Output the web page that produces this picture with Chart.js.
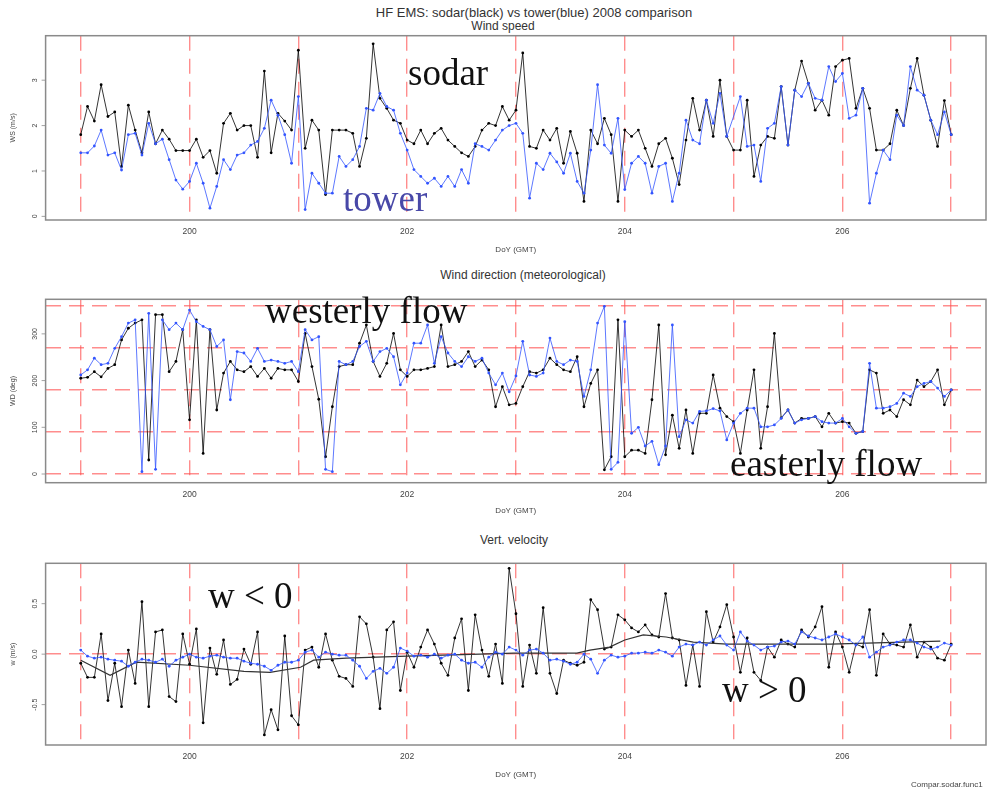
<!DOCTYPE html>
<html>
<head>
<meta charset="utf-8">
<script src="https://cdn.jsdelivr.net/npm/chart.js@4.4.0/dist/chart.umd.min.js"></script>
<style>
  body { margin: 0; background: #fff; width: 998px; height: 792px; position: relative; overflow: hidden;
         font-family: "Liberation Sans", Arial, sans-serif; }
  canvas { position: absolute; left: 0; }
  .t { position: absolute; width: 600px; text-align: center; white-space: nowrap; color: #333; font-size: 12px; line-height: 13px; }
  .ann { position: absolute; white-space: nowrap; font-family: "Liberation Serif", "Times New Roman", serif;
         font-size: 37px; line-height: 37px; color: #111; }
</style>
</head>
<body>
<div class="t" style="left:234px;top:6px;font-size:13px">HF EMS: sodar(black) vs tower(blue) 2008 comparison</div>
<div class="t" style="left:203px;top:20px">Wind speed</div>
<div class="t" style="left:223px;top:269px">Wind direction (meteorological)</div>
<div class="t" style="left:214px;top:534px">Vert. velocity</div>

<canvas id="ws" width="998" height="265" style="top:0"></canvas>
<canvas id="wd" width="998" height="265" style="top:265px"></canvas>
<canvas id="vv" width="998" height="262" style="top:530px"></canvas>

<div class="ann" style="left:408px;top:54px">sodar</div>
<div class="ann" style="left:343px;top:180px;color:#4848a8">tower</div>
<div class="ann" style="left:265px;top:292px">westerly flow</div>
<div class="ann" style="left:730px;top:445px">easterly flow</div>
<div class="ann" style="left:208px;top:577px">w &lt; 0</div>
<div class="ann" style="left:722px;top:671px">w &gt; 0</div>
<div style="position:absolute;left:911px;top:780px;font-size:8px;color:#444;white-space:nowrap">Compar.sodar.func1</div>

<script>
// sample times: DoY 199 .. 207 every 1.5 h
var doy = [];
for (var i = 0; i <= 128; i++) doy.push(199 + i / 16);

// wind speed (m/s)
const wsSodar = [1.8, 2.42, 2.1, 2.9, 2.2, 2.3, 1.1, 2.45, 1.9, 1.4, 2.3, 1.6, 1.9, 1.7, 1.45, 1.45,
  1.45, 1.7, 1.3, 1.45, 0.95, 2.05, 2.27, 1.9, 2.0, 2.0, 1.3, 3.2, 1.4, 2.27, 2.1, 1.9,
  3.66, 1.5, 2.12, 1.9, 0.48, 1.9, 1.9, 1.9, 1.83, 1.1, 1.72, 3.8, 2.6, 2.38, 2.12, 2.05,
  1.68, 1.6, 1.9, 1.6, 1.83, 1.94, 1.68, 1.54, 1.4, 1.32, 1.54, 1.9, 2.05, 2.0, 2.42, 2.12,
  2.34, 3.6, 1.54, 1.5, 1.9, 1.68, 1.94, 1.17, 1.87, 1.39, 0.33, 1.9, 1.6, 2.16, 1.8, 0.33,
  1.9, 1.76, 1.9, 1.5, 1.1, 1.6, 1.72, 1.28, 0.7, 1.68, 2.6, 1.9, 2.56, 1.76, 3.0, 1.76,
  1.46, 1.46, 2.56, 0.88, 1.57, 1.76, 1.72, 2.86, 1.57, 2.78, 3.42, 2.93, 2.34, 2.56, 2.23, 3.3,
  3.44, 3.48, 2.38, 2.82, 2.38, 1.46, 1.46, 1.6, 2.34, 2.0, 2.82, 3.48, 2.67, 2.12, 1.54, 2.55,
  1.8];
const wsTower = [1.4, 1.4, 1.55, 1.9, 1.35, 1.4, 1.02, 1.8, 1.83, 1.35, 2.05, 1.6, 1.7, 1.25, 0.8, 0.6,
  0.77, 1.17, 0.73, 0.18, 0.66, 1.25, 1.03, 1.35, 1.4, 1.57, 1.65, 1.94, 2.56, 2.23, 1.8, 1.17,
  2.64, 0.15, 0.95, 0.73, 0.51, 0.51, 1.32, 1.1, 1.25, 1.54, 2.38, 2.34, 2.71, 2.42, 2.34, 1.83,
  1.46, 1.03, 0.88, 0.73, 0.84, 0.66, 0.88, 0.66, 1.03, 0.73, 1.6, 1.54, 1.46, 1.68, 1.9, 2.0,
  2.05, 1.83, 0.4, 1.17, 1.03, 1.39, 1.2, 0.95, 1.39, 0.77, 0.51, 1.46, 2.9, 1.57, 1.39, 2.16,
  0.59, 1.17, 1.32, 1.17, 0.51, 1.1, 1.17, 0.33, 0.95, 2.12, 1.68, 1.6, 2.56, 2.05, 2.71, 1.76,
  null, 2.64, 1.54, 1.57, 0.77, 1.94, 2.05, 2.86, 1.57, 2.78, 2.64, 2.93, 2.6, 2.56, 3.3, 2.97,
  3.15, 2.16, 2.23, 2.82, 0.29, 0.95, 1.46, 1.25, 2.23, 2.0, 3.3, 2.78, 2.67, 2.12, 1.8, 2.3,
  1.8];

// wind direction (deg)
const wdSodar = [205, 207, 219, 208, 226, 234, 287, 312, 323, 330, 30, 341, 341, 219, 241, 309,
  116, 330, 44, 309, 137, 216, 241, 223, 219, 230, 209, 226, 205, 226, 223, 223,
  198, 301, 230, 160, 37, 144, 230, 234, 234, 280, 319, 241, 209, 237, 301, 223,
  209, 223, 223, 226, 230, 319, 230, 234, 241, 262, 230, 244, 223, 144, 187, 148,
  151, 187, 219, 216, 223, 248, 234, 223, 219, 251, 144, 194, 223, 9, 37, 330,
  37, 51, 51, 44, 159, 319, 41, 126, 55, 137, 44, 130, 130, 212, 141, 123,
  112, 44, 137, 223, 55, 144, 301, 120, 137, 109, 119, 119, 123, 101, 130, 109,
  112, 109, 87, 91, 223, 216, 130, 137, 123, 159, 148, 201, 187, 198, 223, 148,
  180];
const wdTower = [212, 223, 248, 234, 237, 269, 294, 323, 330, 5, 344, 10, 330, 309, 323, 309,
  351, 326, 316, 309, 273, 287, 159, 262, 259, 241, 269, 241, 244, 241, 237, 241,
  219, 309, 287, 294, 10, 5, 241, 234, 241, 273, 284, 241, 262, 269, 251, 191,
  216, 280, 280, 319, 237, 294, 259, 241, 230, 251, 241, 248, 216, 191, 216, 176,
  210, 284, 212, 209, 216, 291, 241, 234, 244, 241, 166, 223, 323, 359, 10, 25,
  326, 87, 100, 60, 70, 20, 60, 319, 80, 116, 109, 134, 135, 140, 135, 73,
  109, 130, 141, 141, 101, 101, 105, 119, 137, 109, 116, 119, 123, 112, 109, 109,
  119, 101, 87, 91, 237, 141, 141, 144, 151, 173, 166, 187, 194, 198, 184, 166,
  180];

// vertical velocity (m/s)
const wSodar = [-0.09, -0.23, -0.23, 0.2, -0.46, -0.09, -0.52, 0.04, -0.29, 0.52, -0.52, 0.22, 0.24, -0.42, -0.47, 0.2,
  -0.1, 0.25, -0.68, 0.06, -0.2, 0.14, -0.3, -0.25, 0.05, -0.1, 0.22, -0.8, -0.55, -0.75, 0.18, -0.61,
  -0.7, 0.04, 0.07, -0.13, 0.2, -0.06, -0.22, -0.24, -0.32, 0.37, 0.3, -0.03, -0.54, 0.24, 0.32, -0.36,
  0.02, -0.13, 0.07, 0.24, 0.1, -0.09, -0.21, 0.16, 0.35, -0.36, 0.39, 0.04, -0.22, 0.1, -0.29, 0.85,
  0.4, -0.32, 0.09, -0.19, 0.46, -0.19, -0.39, -0.06, -0.09, -0.11, -0.08, 0.54, 0.44, 0.05, 0.07, 0.39,
  0.34, 0.26, 0.22, 0.29, 0.19, 0.17, 0.6, 0.16, 0.14, -0.31, 0.09, -0.32, 0.42, 0.12, 0.27, 0.49,
  0.17, -0.18, 0.16, -0.18, -0.26, 0.07, -0.03, 0.14, 0.1, 0.07, 0.24, 0.17, 0.27, 0.47, -0.13, 0.22,
  0.07, -0.18, 0.1, 0.07, 0.44, -0.21, 0.2, 0.1, 0.09, 0.07, 0.29, -0.03, 0.12, 0.07, -0.04, -0.06,
  0.1];
const wTower = [0.04, -0.02, -0.04, -0.03, -0.05, -0.06, -0.07, -0.12, -0.08, -0.05, -0.06, -0.08, -0.05, -0.12, -0.06, -0.03,
  0.0, -0.03, -0.04, -0.02, -0.01, -0.03, -0.04, -0.04, -0.07, -0.09, -0.1, -0.12, -0.16, -0.11, -0.08, -0.08,
  -0.06, 0.02, 0.04, -0.03, 0.02, 0.0, -0.01, -0.01, -0.06, -0.12, -0.24, -0.17, -0.14, -0.19, -0.13, 0.06,
  0.03, -0.02, -0.01, -0.03, 0.0, -0.04, -0.01, 0.0, -0.06, -0.09, -0.08, -0.13, -0.03, 0.02, 0.0, 0.07,
  0.04, -0.01, 0.04, 0.05, 0.01, -0.06, -0.05, -0.07, -0.1, -0.08, 0.0, -0.05, -0.19, -0.06, -0.01, -0.03,
  -0.02, 0.01, 0.01, 0.02, 0.01, 0.04, 0.02, -0.02, 0.07, 0.1, 0.09, 0.12, 0.09, 0.14, 0.18, 0.09,
  0.04, 0.22, 0.13, 0.09, 0.04, 0.07, 0.08, 0.12, 0.13, 0.1, 0.22, 0.18, 0.16, 0.14, 0.17, 0.2,
  0.17, 0.14, 0.09, 0.17, -0.03, 0.02, 0.07, 0.09, 0.12, 0.14, 0.14, 0.11, 0.07, 0.05, 0.07, 0.11,
  0.09];
// smoothed sodar w
const wTrendDay = [199.0, 199.27, 199.51, 200.0, 200.5, 200.74, 201.02, 201.14, 201.44, 202.0, 202.67,
  202.98, 203.56, 203.68, 203.86, 204.0, 204.17, 204.38, 204.63, 204.94, 205.89, 206.9];
const wTrend = [-0.06, -0.21, -0.08, -0.11, -0.17, -0.18, -0.13, -0.06, -0.04, -0.02, 0.0,
  0.01, 0.01, 0.04, 0.07, 0.14, 0.19, 0.17, 0.12, 0.1, 0.1, 0.13];

const RED = 'rgba(255,80,80,0.65)';
const BLUE = '#3355ff';

function pts(xs, ys) {
  return ys.map(function (v, i) { return { x: xs[i], y: v }; });
}

function series(data, color, r) {
  return {
    data: data, borderColor: color, backgroundColor: color, borderWidth: 0.8,
    pointRadius: r, pointBorderWidth: 0, pointBackgroundColor: color,
    spanGaps: true, tension: 0
  };
}

// box around plot + R-style rotated y labels
const frame = {
  id: 'frame',
  afterDraw(chart, args, opts) {
    const ctx = chart.ctx, a = chart.chartArea, y = chart.scales.y;
    ctx.save();
    ctx.strokeStyle = '#8a8a8a';
    ctx.lineWidth = 1.5;
    ctx.strokeRect(a.left, a.top, a.right - a.left, a.bottom - a.top);
    ctx.lineWidth = 0.8;
    ctx.fillStyle = '#444';
    ctx.font = '7px "Liberation Sans", Arial';
    ctx.textAlign = 'center';
    ctx.textBaseline = 'middle';
    opts.labels.forEach(function (v) {
      const py = y.getPixelForValue(v);
      ctx.beginPath(); ctx.moveTo(a.left, py); ctx.lineTo(a.left - 4, py); ctx.stroke();
      ctx.save();
      ctx.translate(a.left - 11, py);
      ctx.rotate(-Math.PI / 2);
      ctx.fillText(opts.fmt(v), 0, 0);
      ctx.restore();
    });
    ctx.restore();
  }
};

function makeChart(id, c) {
  return new Chart(document.getElementById(id), {
    type: 'line',
    data: { datasets: c.datasets },
    options: {
      responsive: false,
      animation: false,
      layout: { padding: { top: c.padTop, right: 12, bottom: 0, left: 0 } },
      plugins: {
        legend: { display: false },
        tooltip: { enabled: false },
        frame: { labels: c.yLabels, fmt: c.fmt }
      },
      scales: {
        x: {
          type: 'linear', min: 198.677, max: 207.32,
          afterFit: function (s) { s.height = c.xHeight; },
          ticks: {
            stepSize: 1, includeBounds: false, autoSkip: false, maxRotation: 0, padding: 7,
            color: '#444', font: { size: 8.5 },
            callback: function (v) { return v % 2 === 0 ? String(v) : ''; }
          },
          grid: { color: RED, lineWidth: 1.4, drawTicks: false },
          border: { display: false, dash: [15, 8] },
          title: { display: true, text: 'DoY (GMT)', color: '#444', font: { size: 8 }, padding: { top: 0, bottom: c.xTitlePad } }
        },
        y: {
          type: 'linear', min: c.yMin, max: c.yMax,
          afterFit: function (s) { s.width = 45.6; },
          afterBuildTicks: function (s) { if (c.yGrid.length) s.ticks = c.yGrid.map(function (v) { return { value: v }; }); },
          ticks: { display: false },
          grid: { display: c.yGrid.length > 0, color: RED, lineWidth: 1.4, drawTicks: false },
          border: { display: false, dash: [15, 8] },
          title: { display: true, text: c.yTitle, color: '#444', font: { size: 7 }, padding: { top: 9, bottom: 0 } }
        }
      }
    },
    plugins: [frame]
  });
}

makeChart('ws', {
  datasets: [series(pts(doy, wsTower), BLUE, 1.4), series(pts(doy, wsSodar), '#000', 1.4)],
  padTop: 35.7, xHeight: 45, xTitlePad: 10,
  yMin: -0.08, yMax: 3.98, yGrid: [], yLabels: [0, 1, 2, 3],
  fmt: function (v) { return String(v); }, yTitle: 'WS (m/s)'
});

makeChart('wd', {
  datasets: [series(pts(doy, wdTower), BLUE, 1.4), series(pts(doy, wdSodar), '#000', 1.4)],
  padTop: 34.3, xHeight: 47.3, xTitlePad: 14,
  yMin: -18.6, yMax: 374, yGrid: [0, 90, 180, 270, 360], yLabels: [0, 100, 200, 300],
  fmt: function (v) { return String(v); }, yTitle: 'WD (deg)'
});

const trendSet = series(pts(wTrendDay, wTrend), '#333', 0);
trendSet.borderWidth = 1.2;
makeChart('vv', {
  datasets: [series(pts(doy, wTower), BLUE, 1.4), trendSet, series(pts(doy, wSodar), '#000', 1.4)],
  padTop: 33.3, xHeight: 47, xTitlePad: 12,
  yMin: -0.9, yMax: 0.9, yGrid: [0], yLabels: [-0.5, 0, 0.5],
  fmt: function (v) { return v.toFixed(1); }, yTitle: 'w (m/s)'
});
</script>
</body>
</html>
